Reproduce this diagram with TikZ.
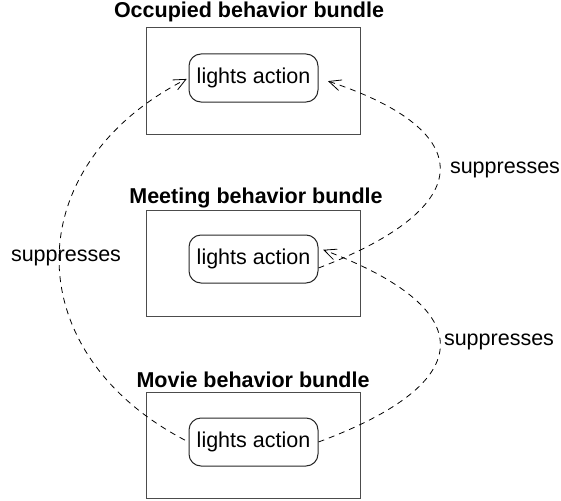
\documentclass[tikz,border=0pt]{standalone}
\usepackage{fontspec}
\setmainfont{Liberation Sans}
\usetikzlibrary{arrows.meta}
\begin{document}
\begin{tikzpicture}[x=1pt,y=-1pt,
  every node/.style={font=\fontsize{21.5}{25}\selectfont},
  bundle/.style={draw=black!70,line width=1pt,minimum width=214pt,minimum height=106pt,inner sep=0pt},
  action/.style={draw=black!85,line width=1pt,rounded corners=12pt,minimum width=129pt,minimum height=48pt,inner sep=0pt},
  title/.style={font=\fontsize{21.5}{25}\selectfont\bfseries},
  supp/.style={dashed,dash pattern=on 6pt off 5pt,line width=0.8pt,-{Straight Barb[length=12pt,width=11pt,line width=0.8pt]}}]
\useasboundingbox (0,0) rectangle (561,500);
% boxes
\node[bundle] (occ) at (253,81) {};
\node[bundle] (mee) at (253,263) {};
\node[bundle] (mov) at (253,445) {};
\node[title] (occt) at (249,12) {Occupied behavior bundle};
\node[title] (meet) at (256,198) {Meeting behavior bundle};
\node[title] (movt) at (253,380) {Movie behavior bundle};
\node[action] (occa) at (253.5,78) {lights action};
\node[action] (meea) at (253.5,259) {lights action};
\node[action] (mova) at (253.5,442) {lights action};
% labels
\node (l1) at (66,258) {suppresses};
\node (l2) at (505,170) {suppresses};
\node (l3) at (499,342) {suppresses};
% connectors
\draw[supp,shorten <=4pt,shorten >=2pt] (mova.west) .. controls (17,352) and (17,166) .. (occa.west);
\draw[supp,shorten >=10pt] ([yshift=-9pt]meea.east) .. controls (479,207) and (479,131) .. (occa.east);
\draw[supp,shorten >=5pt] (mova.east) .. controls (480,382) and (480,309) .. (meea.east |- 0,248);
\end{tikzpicture}
\end{document}
